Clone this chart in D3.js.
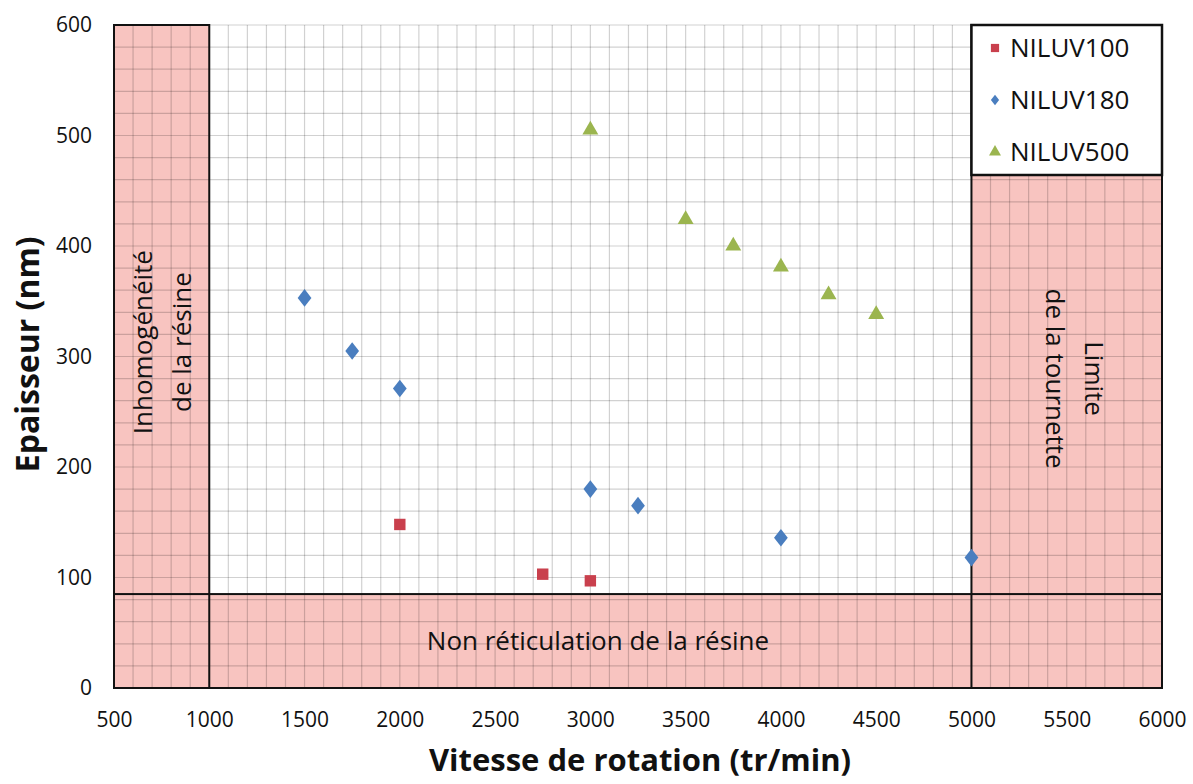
<!DOCTYPE html>
<html>
<head>
<meta charset="utf-8">
<script src="https://cdn.jsdelivr.net/npm/d3@7"></script>
<style>
  html, body { margin: 0; padding: 0; background: #fff; }
  svg { display: block; }
  text { font-family: "Open Sans", "DejaVu Sans", sans-serif; fill: #111; }
</style>
</head>
<body>
<svg id="chart" width="1193" height="784"></svg>
<script>
// ---- data ----
const xTicks = [500, 1000, 1500, 2000, 2500, 3000, 3500, 4000, 4500, 5000, 5500, 6000];
const yTicks = [0, 100, 200, 300, 400, 500, 600];

const niluv100X = [2000, 2750, 3000];
const niluv100Y = [148, 103, 97];

const niluv180X = [1500, 1750, 2000, 3000, 3250, 4000, 5000];
const niluv180Y = [353, 305, 271, 180, 165, 136, 118];

const niluv500X = [3000, 3500, 3750, 4000, 4250, 4500];
const niluv500Y = [505, 424, 400, 381, 356, 338];

const seriesNames = ["NILUV100", "NILUV180", "NILUV500"];

// zones: [x0, x1, y0, y1]
const zoneLeft = [500, 1000, 0, 600];
const zoneBottom = [500, 6000, 0, 85];
const zoneRight = [5000, 6000, 0, 600];

// ---- layout ----
const svg = d3.select("#chart");
const x = d3.scaleLinear().domain([500, 6000]).range([114, 1162]);
const y = d3.scaleLinear().domain([0, 600]).range([688, 25]);

const g = svg.append("g");
const zones = [zoneLeft, zoneBottom, zoneRight];

// zone fills (opaque, under grid)
g.append("g").selectAll("rect").data(zones).join("rect")
  .attr("x", d => x(d[0])).attr("y", d => y(d[3]))
  .attr("width", d => x(d[1]) - x(d[0]))
  .attr("height", d => y(d[2]) - y(d[3]))
  .attr("fill", "#f8c4c0");

// minor grid
const xGrid = d3.range(500, 6001, 100);
const yGrid = d3.range(0, 601, 20);
g.append("g").selectAll("line").data(xGrid).join("line")
  .attr("x1", d => x(d)).attr("x2", d => x(d))
  .attr("y1", y(0)).attr("y2", y(600))
  .attr("stroke", "#000").attr("stroke-opacity", 0.18).attr("stroke-width", 1.2);
g.append("g").selectAll("line").data(yGrid).join("line")
  .attr("x1", x(500)).attr("x2", x(6000))
  .attr("y1", d => y(d)).attr("y2", d => y(d))
  .attr("stroke", "#000").attr("stroke-opacity", 0.18).attr("stroke-width", 1.2);

// zone borders
g.append("g").selectAll("rect").data(zones).join("rect")
  .attr("x", d => x(d[0])).attr("y", d => y(d[3]))
  .attr("width", d => x(d[1]) - x(d[0]))
  .attr("height", d => y(d[2]) - y(d[3]))
  .attr("fill", "none")
  .attr("stroke", "#111").attr("stroke-width", 2);

// zone labels
g.append("text")
  .attr("transform", `translate(${x(762)},${y(313)}) rotate(-90)`)
  .attr("text-anchor", "middle").attr("font-size", 26)
  .selectAll("tspan").data(["Inhomogénéité", "de la résine"]).join("tspan")
  .attr("x", 0).attr("dy", (d, i) => i === 0 ? "-0.45em" : "1.5em").text(d => d);

g.append("text")
  .attr("transform", `translate(${x(5535)},${y(280)}) rotate(90)`)
  .attr("text-anchor", "middle").attr("font-size", 26)
  .selectAll("tspan").data(["Limite", "de la tournette"]).join("tspan")
  .attr("x", 0).attr("dy", (d, i) => i === 0 ? "-0.45em" : "1.5em").text(d => d);

g.append("text")
  .attr("x", x(3040)).attr("y", y(43)).attr("dy", "0.35em")
  .attr("text-anchor", "middle").attr("font-size", 26)
  .text("Non réticulation de la résine");

// axes tick labels
const xAxis = d3.axisBottom(x).tickValues(xTicks).tickFormat(d3.format("d")).tickSize(0).tickPadding(24);
const yAxis = d3.axisLeft(y).tickValues(yTicks).tickFormat(d3.format("d")).tickSize(0).tickPadding(22);
const gx = svg.append("g").attr("transform", `translate(0,${y(0)})`).call(xAxis);
const gy = svg.append("g").attr("transform", `translate(${x(500)},0)`).call(yAxis);
[gx, gy].forEach(a => {
  a.select(".domain").remove();
  a.selectAll("text").attr("font-size", 21).attr("fill", "#111")
    .style("font-family", '"Open Sans", sans-serif');
});

// axis titles
svg.append("text").attr("x", 640).attr("y", 771)
  .attr("text-anchor", "middle").attr("font-size", 31).attr("font-weight", "bold")
  .text("Vitesse de rotation (tr/min)");
svg.append("text").attr("transform", `translate(39,${y(302)}) rotate(-90)`)
  .attr("text-anchor", "middle").attr("font-size", 32).attr("font-weight", "bold")
  .text("Epaisseur (nm)");

// legend box
const lg = svg.append("g");
lg.append("rect").attr("x", x(5000)).attr("y", y(600))
  .attr("width", x(6000) - x(5000)).attr("height", 150)
  .attr("fill", "#fff").attr("stroke", "#111").attr("stroke-width", 2.5);

// markers
const red = "#c9404d", blue = "#4a7ebf", green = "#9bb54f";
const sq = d3.symbol().type(d3.symbolSquare).size(130);
const dia = d3.symbol().type(d3.symbolDiamond).size(90);
const tri = d3.symbol().type(d3.symbolTriangle).size(110);

const d100 = niluv100X.map((v, i) => [v, niluv100Y[i]]);
const d180 = niluv180X.map((v, i) => [v, niluv180Y[i]]);
const d500 = niluv500X.map((v, i) => [v, niluv500Y[i]]);

svg.append("g").selectAll("path").data(d100).join("path")
  .attr("d", sq).attr("transform", d => `translate(${x(d[0])},${y(d[1])})`).attr("fill", red);
svg.append("g").selectAll("path").data(d180).join("path")
  .attr("d", dia).attr("transform", d => `translate(${x(d[0])},${y(d[1])}) scale(1.35,1.0)`).attr("fill", blue);
svg.append("g").selectAll("path").data(d500).join("path")
  .attr("d", tri).attr("transform", d => `translate(${x(d[0])},${y(d[1])})`).attr("fill", green);

// legend entries
const legSyms = [[sq, red, 0.72, 1], [dia, blue, 0.6, 1.35], [tri, green, 0.75, 1]];
seriesNames.forEach((name, i) => {
  const cy = 48 + i * 52;
  lg.append("path").attr("d", legSyms[i][0])
    .attr("transform", `translate(995,${cy}) scale(${legSyms[i][2] * legSyms[i][3]},${legSyms[i][2]})`)
    .attr("fill", legSyms[i][1]);
  lg.append("text").attr("x", 1010).attr("y", cy).attr("dy", "0.36em")
    .attr("font-size", 26).text(name);
});
</script>
</body>
</html>
